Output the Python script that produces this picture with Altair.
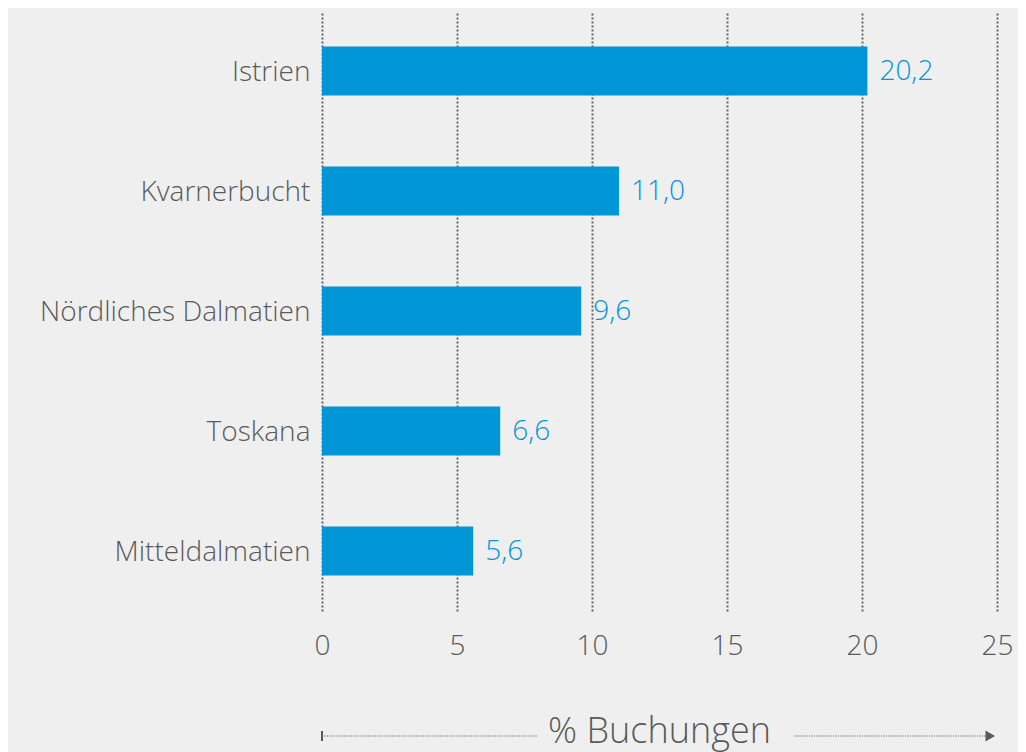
import altair as alt
import pandas as pd

regions = ["Istrien", "Kvarnerbucht", "Nördliches Dalmatien", "Toskana", "Mitteldalmatien"]
shares = [20.2, 11.0, 9.6, 6.6, 5.6]
x_ticks = [0, 5, 10, 15, 20, 25]

df = pd.DataFrame({"region": regions, "share": shares})
df["label"] = [f"{v:.1f}".replace(".", ",") for v in shares]

GREY = "#5a5a5a"
BLUE = "#0096d8"
FONT = "Open Sans"
FW = 300
FS = 28

x_scale = alt.Scale(domain=[0, 25], nice=False, zero=True)
y_enc = alt.Y("region:N", sort=regions, title=None,
              scale=alt.Scale(paddingInner=0.59, paddingOuter=0.295),
              axis=alt.Axis(domain=False, ticks=False, labelPadding=12,
                            labelFontSize=FS, labelColor=GREY, labelFont=FONT,
                            labelFontWeight=FW, labelLimit=400, labelOffset=2,
                            grid=False))

bars = alt.Chart(df).mark_bar(color=BLUE).encode(
    x=alt.X("share:Q", scale=x_scale,
            axis=alt.Axis(values=x_ticks, domain=False, ticks=False,
                          grid=True, gridColor="#666666", gridWidth=2,
                          gridDash=[2, 2], labelFontSize=FS, labelColor=GREY,
                          labelFont=FONT, labelFontWeight=FW, labelPadding=21,
                          labelFlush=False, title=None)),
    y=y_enc,
)

labels = alt.Chart(df).mark_text(align="left", baseline="middle", dx=12, dy=1,
                                 fontSize=FS, color=BLUE, font=FONT,
                                 fontWeight=FW).encode(
    x=alt.X("share:Q", scale=x_scale),
    y=alt.Y("region:N", sort=regions),
    text="label:N",
)

# axis title with arrow decoration below the x axis
title_df = pd.DataFrame({"x": [12.5], "t": ["% Buchungen"]})
title = alt.Chart(title_df).mark_text(fontSize=36, color=GREY, font=FONT,
                                      fontWeight=FW, baseline="middle").encode(
    x=alt.X("x:Q", scale=x_scale), y=alt.value(721), text="t:N")

seg_df = pd.DataFrame({"a": [0.0, 17.5], "b": [7.95, 24.6]})
segs = alt.Chart(seg_df).mark_rule(color="#666666", strokeWidth=1.2,
                                   strokeDash=[1.2, 1.2]).encode(
    x=alt.X("a:Q", scale=x_scale), x2="b:Q", y=alt.value(725))

start_df = pd.DataFrame({"x": [0.0]})
start = alt.Chart(start_df).mark_rule(color=GREY, strokeWidth=2).encode(
    x=alt.X("x:Q", scale=x_scale), y=alt.value(720), y2=alt.value(730))

arrow = alt.Chart(pd.DataFrame({"x": [24.75]})).mark_point(
    shape="triangle-right", filled=True, color=GREY, size=120, opacity=1).encode(
    x=alt.X("x:Q", scale=x_scale), y=alt.value(725))

chart = alt.layer(bars, labels, title, segs, start, arrow).properties(
    width=675, height=600,
    autosize=alt.AutoSizeParams(type="none"),
    padding={"left": 314, "top": 3, "right": 21, "bottom": 160},
    background="#efefef",
).configure_view(strokeWidth=0)

chart.save("out.html", embed_options={"renderer": "svg", "actions": False})
